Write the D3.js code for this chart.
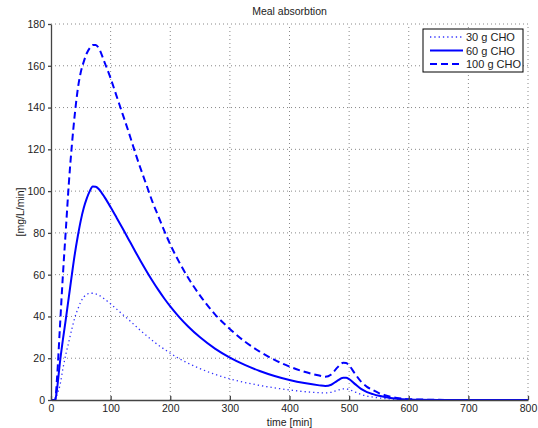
<!DOCTYPE html>
<html>
<head>
<meta charset="utf-8">
<script src="https://d3js.org/d3.v7.min.js"></script>
<style>
  body { margin: 0; background: #fff; }
  svg text { font-family: "Liberation Sans", Arial, Helvetica, sans-serif; font-size: 10.5px; fill: #222; }
  .grid line { stroke: #888; stroke-width: 1; stroke-dasharray: 1,3; }
  .axis path, .axis line { stroke: #444; stroke-width: 1.3; }
</style>
</head>
<body>
<svg id="chart" width="538" height="428"></svg>
<script>
// time grid in minutes
var times = [0,7,10,15,20,25,30,35,40,45,50,55,60,65,70,75,80,90,100,110,120,130,140,150,160,170,180,190,200,
             215,230,250,275,300,325,350,375,400,425,450,460,470,480,490,495,500,510,520,530,540,550,560,580,600,650,700,800];

var cho30 = [0,0,2.5,7,15,22,28,34,39.5,43.5,47,49.3,50.5,51.1,51.1,50.8,50.2,48.3,46,43.5,41,38.5,35.9,33.3,30.9,28.5,26.3,24.3,22.4,
             19.8,17.6,15,12.3,10.1,8.4,7,5.8,4.8,4,3.5,3.4,3.7,4.6,5.3,5.3,5,3.8,2.7,1.9,1.4,1,0.7,0.3,0.12,0.03,0,0];

var cho60 = [0,0,5,18,29,39,49.5,60,70,78.5,86,92,96.5,100,102.2,102.1,101,97,92.3,87.3,82.2,77,71.8,66.7,61.8,57.1,52.7,48.6,44.8,
             39.7,35.2,30,24.6,20.3,16.8,13.9,11.5,9.6,8.1,7,6.7,7.3,9.2,10.6,10.6,10,7.6,5.3,3.8,2.8,2,1.4,0.6,0.25,0.05,0,0];

var cho100 = [0,0,10,35,60,82,104,122,137,149,157,162,166,168.5,170,170,168.5,161.5,154,145.5,137,128.5,119.5,111,103,95,88,81,74.5,
              66,58.5,50,41,34,28,23.2,19.2,16,13.5,11.7,11.1,12.2,15.5,17.8,17.7,16.5,12.5,8.8,6.3,4.7,3.3,2.3,1,0.4,0.08,0,0];

var xTicks = [0,100,200,300,400,500,600,700,800];
var yTicks = [0,20,40,60,80,100,120,140,160,180];

var series = [
  { label: "30 g CHO", values: cho30, width: 1.3, dash: "1.3,3", color: "#3030ff" },
  { label: "60 g CHO", values: cho60, width: 2, dash: null, color: "#0000ff" },
  { label: "100 g CHO", values: cho100, width: 2, dash: "7,4", color: "#0000ff" }
];

var margin = { left: 51, right: 10, top: 24, bottom: 28 };
var W = 538, H = 428;

var svg = d3.select("#chart");

var x = d3.scaleLinear().domain([0, 800]).range([margin.left, W - margin.right]);
var y = d3.scaleLinear().domain([0, 180]).range([H - margin.bottom, margin.top]);

// grid
var grid = svg.append("g").attr("class", "grid");
grid.selectAll(".gx").data(xTicks.slice(1)).enter().append("line")
  .attr("x1", d => x(d)).attr("x2", d => x(d))
  .attr("y1", y(0)).attr("y2", y(180));
grid.selectAll(".gy").data(yTicks.slice(1)).enter().append("line")
  .attr("x1", x(0)).attr("x2", x(800))
  .attr("y1", d => y(d)).attr("y2", d => y(d));

// curves
var line = d3.line()
  .x((d, i) => x(times[i]))
  .y(d => y(d))
  .curve(d3.curveMonotoneX);

series.forEach(function(s) {
  svg.append("path")
    .datum(s.values)
    .attr("fill", "none")
    .attr("stroke", s.color)
    .attr("stroke-width", s.width)
    .attr("stroke-dasharray", s.dash)
    .attr("stroke-linejoin", "round")
    .attr("d", line);
});

// axes (x ticks point inward, like the reference)
var xAxis = d3.axisBottom(x).tickValues(xTicks).tickSize(-4).tickSizeOuter(0).tickPadding(5);
var yAxis = d3.axisLeft(y).tickValues(yTicks).tickSize(3).tickSizeOuter(0).tickPadding(3);

svg.append("g").attr("class", "axis")
  .attr("transform", "translate(0," + y(0) + ")")
  .call(xAxis);
svg.append("g").attr("class", "axis")
  .attr("transform", "translate(" + x(0) + ",0)")
  .call(yAxis);
svg.selectAll(".axis text").style("font-size", "10.5px").attr("fill", "#222");

// titles
svg.append("text").attr("x", (x(0) + x(800)) / 2).attr("y", 15)
  .attr("text-anchor", "middle").text("Meal absorbtion");
svg.append("text").attr("x", (x(0) + x(800)) / 2).attr("y", 426)
  .attr("text-anchor", "middle").text("time [min]");
svg.append("text")
  .attr("transform", "translate(24," + (y(0) + y(180)) / 2 + ") rotate(-90)")
  .attr("text-anchor", "middle").text("[mg/L/min]");

// legend
var lg = svg.append("g").attr("transform", "translate(423,29)");
lg.append("rect").attr("width", 100).attr("height", 43)
  .attr("fill", "#fff").attr("stroke", "#000").attr("stroke-width", 1);
series.forEach(function(s, i) {
  var yy = 8 + i * 13.5;
  lg.append("line").attr("x1", 7).attr("x2", 40).attr("y1", yy).attr("y2", yy)
    .attr("stroke", s.color).attr("stroke-width", s.width)
    .attr("stroke-dasharray", s.dash);
  lg.append("text").attr("x", 43).attr("y", yy + 4).style("font-size", "11px").text(s.label);
});
</script>
</body>
</html>
